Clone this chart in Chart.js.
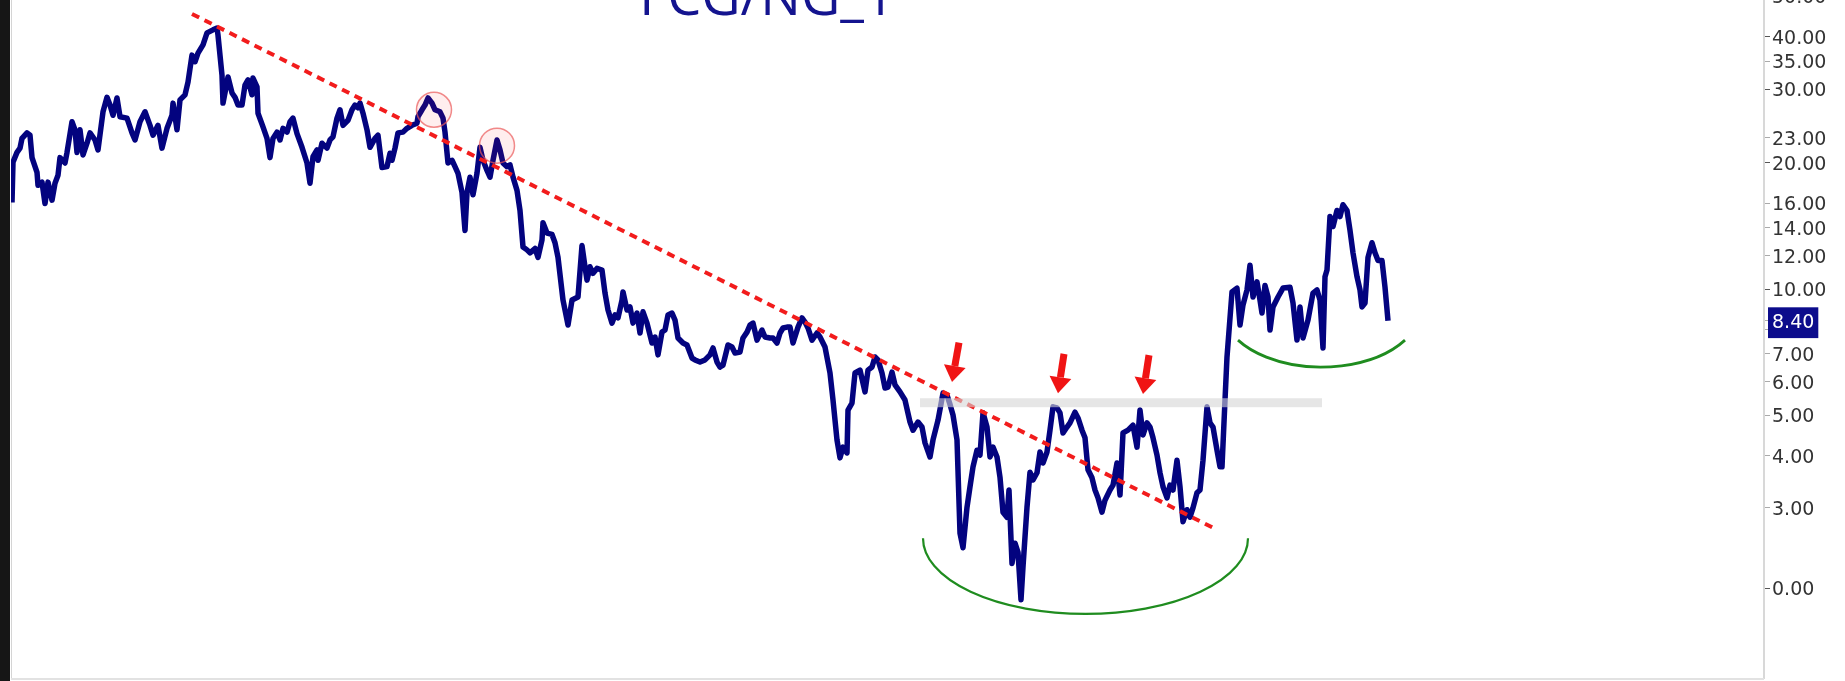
<!DOCTYPE html>
<html>
<head>
<meta charset="utf-8">
<title>FCG/NG_1</title>
<script src="https://cdn.jsdelivr.net/npm/chart.js@4.4.0/dist/chart.umd.min.js"></script>
<style>
  html, body { margin: 0; padding: 0; background: #fff; }
  body { width: 1845px; height: 681px; overflow: hidden; position: relative; }
  #wrap { position: absolute; left: 0; top: -40px; width: 1845px; height: 738px; }
  #edge { position: absolute; left: 0; top: 0; width: 10px; height: 681px; background: #161616; }
</style>
</head>
<body>
<div id="wrap"><canvas id="chart"></canvas></div>
<div id="edge"></div>
<script>
// bar index (one bar per step) and ratio value
const bars = [
  0,1,5,8,10,15,18,20,25,26,
  30,33,36,40,43,46,48,53,55,60,
  63,65,68,71,75,78,83,86,91,95,
  98,101,105,108,115,120,123,128,133,138,
  141,146,150,155,160,161,165,168,173,176,
  180,183,186,191,195,201,205,206,210,211,
  216,220,223,226,230,233,236,240,241,245,
  246,251,255,258,261,265,268,271,275,278,
  281,285,290,295,298,301,305,306,310,315,
  318,321,325,328,331,336,340,343,346,348,
  351,355,358,363,366,370,375,378,380,383,
  386,391,395,400,405,406,410,413,416,420,
  423,428,431,433,436,440,443,446,450,453,
  455,458,461,465,468,471,475,478,481,485,
  488,491,495,498,501,505,508,511,515,518,
  523,526,530,531,535,540,543,546,551,556,
  560,566,570,573,575,578,581,585,590,593,
  596,600,603,606,610,611,615,618,621,625,
  628,631,635,640,643,646,650,653,656,660,
  663,666,671,675,680,683,688,693,698,701,
  705,708,711,716,720,723,728,731,735,738,
  741,745,750,753,758,761,765,768,771,775,
  778,781,786,790,793,796,800,805,808,813,
  818,821,825,828,831,835,836,840,843,848,
  853,856,860,863,866,870,873,876,880,883,
  888,893,898,901,906,910,913,918,921,926,
  931,935,938,941,945,948,951,955,958,961,
  965,968,971,975,978,981,985,988,991,995,
  997,1000,1003,1006,1009,1011,1015,1018,1021,1025,
  1028,1031,1035,1038,1041,1045,1048,1051,1055,1058,
  1063,1066,1070,1073,1076,1080,1083,1086,1090,1093,
  1098,1101,1105,1108,1111,1116,1121,1125,1128,1131,
  1135,1138,1141,1145,1148,1151,1155,1158,1161,1165,
  1168,1171,1175,1178,1181,1185,1188,1191,1195,1198,
  1201,1205,1208,1210,1213,1215,1220,1225,1228,1231,
  1235,1238,1241,1245,1248,1250,1253,1256,1258,1261,
  1266,1271,1278,1281,1285,1288,1291,1296,1301,1305,
  1308,1311,1313,1315,1318,1321,1325,1328,1331,1335,
  1338,1341,1345,1348,1350,1353,1356,1360,1363,1366,
  1370,1373,1376
];
const ratio = [
  16.1,20.1,21.2,21.7,22.9,23.6,23.3,20.6,19.0,17.7,
  18.0,16.0,18.0,16.3,17.9,18.7,20.6,20.0,21.2,25.1,
  24.0,21.2,24.0,20.9,22.3,23.6,22.7,21.5,26.5,28.7,
  27.5,26.0,28.6,25.8,25.6,23.6,22.7,25.1,26.5,24.6,
  23.3,24.6,21.7,24.2,26.0,27.8,24.0,28.3,29.1,31.2,
  36.2,34.9,36.6,38.3,40.9,41.6,42.0,40.4,32.4,27.8,
  32.1,29.4,28.7,27.5,27.5,30.7,31.6,29.1,31.9,30.4,
  26.3,24.4,22.9,20.6,22.9,23.7,22.7,24.2,23.7,25.1,
  25.6,23.5,21.8,20.0,17.9,20.7,21.5,20.3,22.3,21.7,
  22.7,23.1,25.6,26.8,24.6,25.3,26.8,27.5,27.1,27.8,
  26.3,24.0,21.8,22.9,23.3,19.5,19.6,21.1,20.3,21.7,
  23.6,23.7,24.2,24.6,24.9,25.8,26.8,27.5,28.6,27.8,
  26.8,26.5,25.6,23.7,20.0,20.3,19.6,18.9,17.0,13.8,
  17.0,18.5,16.8,18.9,21.8,20.3,19.2,18.5,20.3,22.7,
  21.5,20.0,19.6,19.8,18.5,17.2,15.4,12.6,12.4,12.2,
  12.5,11.9,13.1,14.4,13.6,13.5,12.9,11.9,9.41,8.20,
  9.41,9.57,12.7,11.3,10.5,11.3,10.9,11.2,11.1,9.78,
  8.91,8.29,8.67,8.53,9.41,9.84,8.91,9.06,8.29,8.76,
  7.85,8.82,8.29,7.43,7.68,6.96,7.89,7.98,8.67,8.76,
  8.43,7.64,7.43,7.35,6.84,6.77,6.69,6.77,6.96,7.23,
  6.69,6.51,6.58,7.35,7.27,7.03,7.07,7.64,7.89,8.20,
  8.29,7.55,7.98,7.68,7.64,7.64,7.43,7.85,8.07,8.11,
  8.11,7.43,8.11,8.53,8.34,8.07,7.55,7.85,7.68,7.27,
  6.30,5.43,4.36,3.95,4.19,4.06,5.14,5.34,6.30,6.40,
  5.68,6.40,6.51,6.88,6.77,6.30,5.80,5.83,6.33,5.90,
  5.68,5.43,4.81,4.60,4.81,4.68,4.29,3.97,4.36,4.86,
  5.64,5.58,5.30,5.00,4.36,2.61,2.41,3.01,3.37,3.76,
  4.12,4.01,5.06,4.68,3.97,4.19,3.97,3.55,2.93,2.85,
  3.31,2.21,2.47,2.35,1.81,2.17,3.01,3.65,3.50,3.64,
  4.08,3.84,4.08,4.60,5.23,5.20,5.06,4.53,4.68,4.79,
  5.08,4.92,4.60,4.41,3.70,3.54,3.31,3.17,2.93,3.13,
  3.31,3.40,3.84,3.22,4.53,4.60,4.73,4.19,5.14,4.48,
  4.79,4.68,4.41,4.01,3.64,3.37,3.17,3.40,3.31,3.90,
  3.37,2.78,2.97,2.85,3.00,3.26,3.31,3.90,5.23,4.79,
  4.68,4.12,3.76,3.76,5.43,6.88,9.84,10.05,8.20,9.16,
  9.95,11.4,9.57,10.4,9.41,8.76,10.2,9.57,7.98,9.06,
  9.57,10.05,10.1,9.26,7.55,9.06,7.64,8.43,9.78,9.95,
  9.41,7.23,10.7,11.1,14.9,14.1,15.4,14.9,15.9,15.4,
  13.8,12.2,10.7,9.95,9.06,9.26,11.9,12.9,12.2,11.7,
  11.7,10.1,8.40
];

// right axis ticks (the last one is the current price tag)
const tickValues = [1.93, 3, 4, 5, 6, 7, 8, 10, 12, 14, 16, 20, 23, 30, 35, 40, 50, 8.4];
const tickLabels = ['0.00','3.00','4.00','5.00','6.00','7.00','8.00','10.00','12.00','14.00','16.00','20.00','23.00','30.00','35.00','40.00','50.00','8.40'];
const majorTicks = [1.93, 10, 20, 30, 40];
const lastPrice = 8.4;

// drawn annotations, in bar / value units
const trendBars = [180, 1205];
const trendValues = [45.4, 2.66];
const circleBars = [422, 485];
const circleValues = [26.8, 22.0];
const arrowTailBars = [947, 1052, 1137];
const arrowTailValues = [7.45, 7.0, 6.95];
const arrowTipBars = [940, 1046, 1131];
const arrowTipValues = [6.0, 5.64, 5.61];
const bandBars = [908, 1310];
const bandLevel = 5.35;
const bowlBars = [911, 1236];      // big rounded bottom
const bowlValues = [2.54, 1.674];  // ends, lowest point
const cupBars = [1226, 1393];      // small base on the right
const cupValues = [7.55, 6.51];

const frame = {
  id: 'frame',
  beforeDatasetsDraw(chart) {
    const { ctx, chartArea: a } = chart;
    ctx.save();
    ctx.strokeStyle = '#d4d4d4';
    ctx.lineWidth = 1;
    ctx.beginPath();
    ctx.moveTo(a.left + 0.5, a.top);
    ctx.lineTo(a.left + 0.5, a.bottom);
    ctx.stroke();
    ctx.strokeStyle = '#e2e2e2';
    ctx.lineWidth = 2;
    ctx.beginPath();
    ctx.moveTo(a.left, a.bottom + 1);
    ctx.lineTo(a.right, a.bottom + 1);
    ctx.stroke();
    ctx.restore();
  }
};

function drawArrow(ctx, x1, y1, x2, y2) {
  const ang = Math.atan2(y2 - y1, x2 - x1);
  const head = 16, half = 11;
  const bx = x2 - head * Math.cos(ang), by = y2 - head * Math.sin(ang);
  ctx.strokeStyle = '#f01414';
  ctx.fillStyle = '#f01414';
  ctx.lineWidth = 7;
  ctx.lineCap = 'butt';
  ctx.beginPath();
  ctx.moveTo(x1, y1);
  ctx.lineTo(bx, by);
  ctx.stroke();
  ctx.beginPath();
  ctx.moveTo(x2, y2);
  ctx.lineTo(bx + half * Math.sin(ang), by - half * Math.cos(ang));
  ctx.lineTo(bx - half * Math.sin(ang), by + half * Math.cos(ang));
  ctx.closePath();
  ctx.fill();
}

function drawArc(ctx, xL, xR, yEnd, yBot, ry) {
  const cx = (xL + xR) / 2, cy = yBot - ry;
  const t0 = Math.asin(Math.min(1, Math.max(0, (yEnd - cy) / ry)));
  const rx = (xR - xL) / 2 / Math.cos(t0);
  ctx.beginPath();
  ctx.ellipse(cx, cy, rx, ry, 0, t0, Math.PI - t0);
  ctx.stroke();
}

const overlay = {
  id: 'overlay',
  afterDatasetsDraw(chart) {
    const { ctx, scales: { x, y } } = chart;
    ctx.save();

    // resistance band
    const bx0 = x.getPixelForValue(bandBars[0]), bx1 = x.getPixelForValue(bandBars[1]);
    const by = y.getPixelForValue(bandLevel);
    ctx.fillStyle = 'rgba(214,214,214,0.6)';
    ctx.fillRect(bx0, by - 4.5, bx1 - bx0, 9);

    // circled peaks
    circleBars.forEach((b, i) => {
      ctx.beginPath();
      ctx.arc(x.getPixelForValue(b), y.getPixelForValue(circleValues[i]), 17.5, 0, Math.PI * 2);
      ctx.fillStyle = 'rgba(255,40,40,0.08)';
      ctx.fill();
      ctx.strokeStyle = 'rgba(235,90,90,0.7)';
      ctx.lineWidth = 1.5;
      ctx.stroke();
    });

    // arrows
    arrowTipBars.forEach((b, i) => {
      drawArrow(ctx,
        x.getPixelForValue(arrowTailBars[i]), y.getPixelForValue(arrowTailValues[i]),
        x.getPixelForValue(b), y.getPixelForValue(arrowTipValues[i]));
    });

    // green bases
    ctx.strokeStyle = '#1f8c1f';
    ctx.lineWidth = 2.2;
    let yE = y.getPixelForValue(bowlValues[0]), yB = y.getPixelForValue(bowlValues[1]);
    drawArc(ctx, x.getPixelForValue(bowlBars[0]), x.getPixelForValue(bowlBars[1]), yE, yB, yB - yE);
    ctx.lineWidth = 2.8;
    yE = y.getPixelForValue(cupValues[0]);
    yB = y.getPixelForValue(cupValues[1]);
    drawArc(ctx, x.getPixelForValue(cupBars[0]), x.getPixelForValue(cupBars[1]), yE, yB, 60);

    ctx.restore();
  }
};

const titleText = {
  id: 'titleText',
  afterDraw(chart) {
    const ctx = chart.ctx;
    ctx.save();
    ctx.font = '54px "Open Sans"';
    ctx.fillStyle = '#14148f';
    ctx.textAlign = 'center';
    ctx.textBaseline = 'alphabetic';
    ctx.fillText('FCG/NG_1', 767, 55);
    ctx.restore();
  }
};

const isPrice = (c) => c.tick && c.tick.value === lastPrice;

new Chart(document.getElementById('chart'), {
  type: 'line',
  data: {
    datasets: [
      {
        label: 'trend',
        data: trendBars.map((b, i) => ({ x: b, y: trendValues[i] })),
        borderColor: '#f21c1c',
        borderWidth: 4,
        borderDash: [8, 6],
        pointRadius: 0,
        order: 0
      },
      {
        label: 'FCG/NG_1',
        data: bars.map((b, i) => ({ x: b, y: ratio[i] })),
        borderColor: '#03037f',
        borderWidth: 5.5,
        borderJoinStyle: 'round',
        pointRadius: 0,
        tension: 0,
        order: 1
      }
    ]
  },
  options: {
    responsive: true,
    maintainAspectRatio: false,
    animation: false,
    layout: { padding: { left: 11, top: 20, bottom: 20, right: 0 } },
    plugins: { legend: { display: false }, tooltip: { enabled: false } },
    scales: {
      x: { type: 'linear', display: false, min: -1, max: 1752 },
      y: {
        type: 'logarithmic',
        position: 'right',
        min: 1.177,
        max: 54.72,
        afterBuildTicks: (s) => { s.ticks = tickValues.map(v => ({ value: v })); },
        afterFit: (s) => { s.width = 81; },
        grid: {
          drawOnChartArea: false,
          tickLength: 6,
          tickColor: (c) => (c.tick && majorTicks.includes(c.tick.value)) ? '#555' : '#aaa'
        },
        border: { color: '#d8d8d8', width: 2 },
        ticks: {
          autoSkip: false,
          padding: 2,
          labelOffset: 2,
          font: { family: 'DejaVu Sans', size: 19 },
          color: (c) => isPrice(c) ? '#ffffff' : '#333333',
          callback: (v, i) => tickLabels[i],
          showLabelBackdrop: (c) => isPrice(c),
          backdropColor: '#0c0c8c',
          backdropPadding: { x: 4, y: 4 }
        }
      }
    }
  },
  plugins: [frame, overlay, titleText]
});
</script>
</body>
</html>
